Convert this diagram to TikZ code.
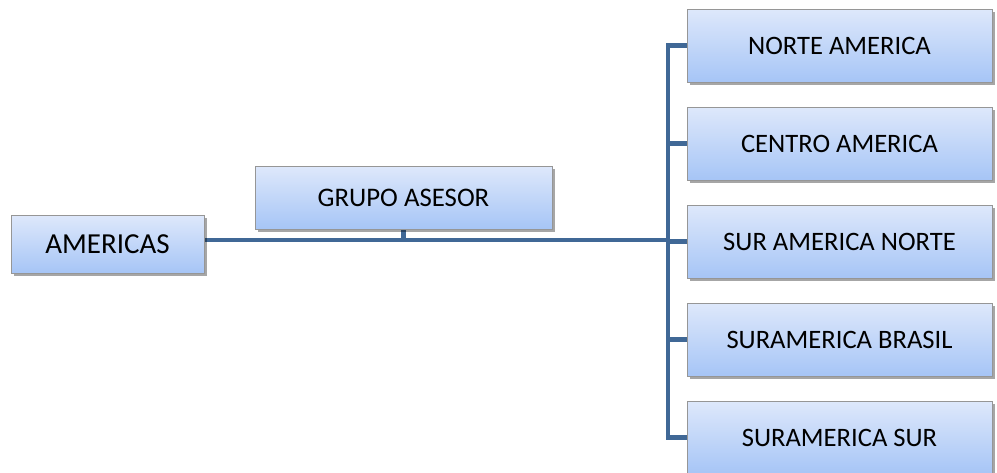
\documentclass[tikz,border=0pt]{standalone}
\usepackage{fontspec}
\setmainfont{Carlito}
\usetikzlibrary{shadows,backgrounds}
\definecolor{linecol}{RGB}{64,104,150}
\definecolor{boxtop}{RGB}{222,232,251}
\definecolor{boxbot}{RGB}{166,197,246}
\definecolor{boxedge}{RGB}{150,150,150}
\tikzset{
  orgbox/.style={draw=boxedge, line width=0.8pt, top color=boxtop, bottom color=boxbot,
    drop shadow={shadow xshift=2.5pt, shadow yshift=-2.5pt, opacity=0.35, fill=black},
    inner sep=0pt, align=center},
  rbox/.style={orgbox, minimum width=305pt, minimum height=73pt, font=\fontsize{26.6}{30}\selectfont},
  conn/.style={draw=linecol, line width=4.5pt}
}
\begin{document}
\begin{tikzpicture}[x=1pt,y=-1pt]
\useasboundingbox (0,0) rectangle (997,472);
\node[orgbox, minimum width=193pt, minimum height=58pt, font=\fontsize{29}{33}\selectfont] (am) at (107.5,244) {AMERICAS};
\node[orgbox, minimum width=297pt, minimum height=63pt, font=\fontsize{26.8}{30}\selectfont] (gr) at (403.5,197.5) {GRUPO ASESOR};
\node[rbox] (n1) at (839.5,45.5) {NORTE AMERICA};
\node[rbox] (n2) at (839.5,143.5) {CENTRO AMERICA};
\node[rbox] (n3) at (839.5,241.5) {SUR AMERICA NORTE};
\node[rbox] (n4) at (839.5,339.5) {SURAMERICA BRASIL};
\node[rbox] (n5) at (839.5,437.5) {SURAMERICA SUR};
\coordinate (j) at (668,240);
\begin{pgfonlayer}{background}
\draw[conn] (am.east |- j) -- (j);
\draw[conn] (gr.south) -- (gr.south |- j);
\draw[conn] (n1.west) -| (j);
\draw[conn] (n5.west) -| (j);
\draw[conn] (n2.west) -- (n2.west -| j);
\draw[conn] (n3.west) -- (n3.west -| j);
\draw[conn] (n4.west) -- (n4.west -| j);
\end{pgfonlayer}
\end{tikzpicture}
\end{document}
